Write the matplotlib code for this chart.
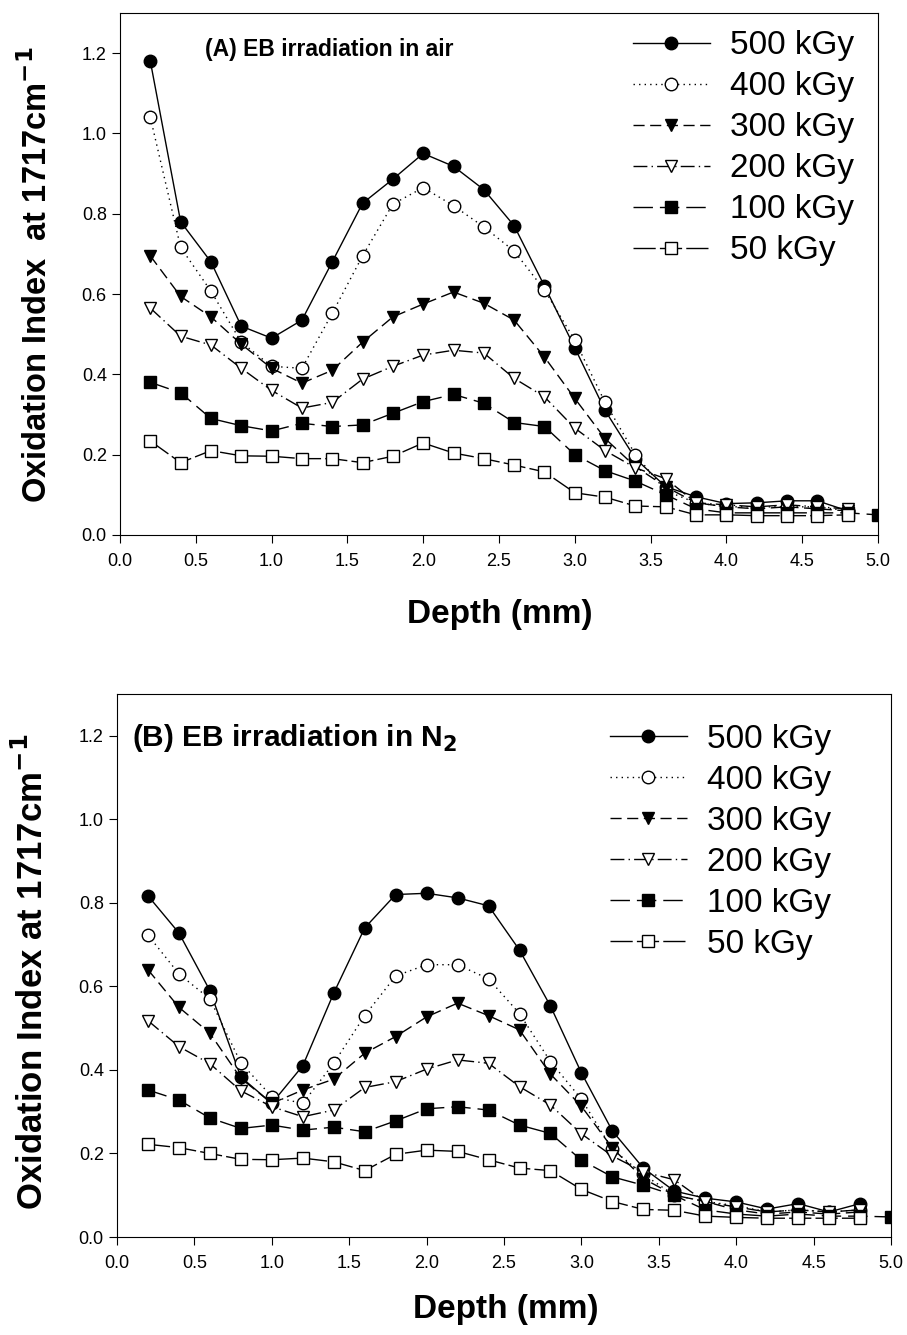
import numpy as np
import matplotlib
matplotlib.use("Agg")
import matplotlib.pyplot as plt

plt.rcParams['font.family'] = ['Liberation Sans', 'DejaVu Sans']

depth = [0.2, 0.4, 0.6, 0.8, 1.0, 1.2, 1.4, 1.6, 1.8, 2.0, 2.2, 2.4,
         2.6, 2.8, 3.0, 3.2, 3.4, 3.6, 3.8, 4.0, 4.2, 4.4, 4.6, 4.8]
depth_100 = depth + [5.0]
doses = ["500 kGy", "400 kGy", "300 kGy", "200 kGy", "100 kGy", "50 kGy"]

# (A) irradiation in air
air_500 = [1.18, 0.78, 0.68, 0.52, 0.49, 0.535, 0.68, 0.826, 0.886, 0.95, 0.918, 0.86,
           0.77, 0.62, 0.466, 0.31, 0.19, 0.12, 0.095, 0.078, 0.08, 0.085, 0.085, 0.06]
air_400 = [1.04, 0.716, 0.607, 0.48, 0.42, 0.415, 0.552, 0.695, 0.824, 0.865, 0.82, 0.767,
           0.707, 0.61, 0.485, 0.33, 0.20, 0.11, 0.08, 0.07, 0.07, 0.07, 0.07, 0.06]
air_300 = [0.695, 0.594, 0.543, 0.475, 0.415, 0.378, 0.41, 0.48, 0.543, 0.575, 0.605, 0.577,
           0.535, 0.443, 0.34, 0.24, 0.17, 0.12, 0.08, 0.07, 0.065, 0.07, 0.065, 0.06]
air_200 = [0.565, 0.495, 0.473, 0.415, 0.36, 0.316, 0.33, 0.388, 0.42, 0.448, 0.46, 0.453,
           0.39, 0.344, 0.266, 0.21, 0.167, 0.14, 0.08, 0.075, 0.07, 0.075, 0.07, 0.065]
air_100 = [0.38, 0.354, 0.29, 0.272, 0.259, 0.278, 0.27, 0.274, 0.303, 0.332, 0.35, 0.328,
           0.28, 0.27, 0.20, 0.16, 0.134, 0.10, 0.065, 0.055, 0.055, 0.055, 0.055, 0.055, 0.05]
air_50 = [0.234, 0.18, 0.21, 0.197, 0.196, 0.19, 0.19, 0.18, 0.196, 0.229, 0.204, 0.19,
          0.174, 0.157, 0.105, 0.094, 0.072, 0.07, 0.05, 0.05, 0.048, 0.048, 0.048, 0.05]

# (B) irradiation in N2
n2_500 = [0.817, 0.728, 0.59, 0.383, 0.32, 0.41, 0.584, 0.74, 0.82, 0.823, 0.812, 0.793,
          0.687, 0.553, 0.393, 0.254, 0.165, 0.11, 0.093, 0.084, 0.067, 0.08, 0.06, 0.08]
n2_400 = [0.723, 0.63, 0.57, 0.417, 0.336, 0.32, 0.416, 0.53, 0.625, 0.652, 0.652, 0.618,
          0.535, 0.42, 0.33, 0.21, 0.15, 0.10, 0.085, 0.075, 0.06, 0.065, 0.06, 0.065]
n2_300 = [0.64, 0.55, 0.488, 0.38, 0.32, 0.352, 0.378, 0.44, 0.48, 0.527, 0.56, 0.53,
          0.496, 0.39, 0.313, 0.213, 0.14, 0.10, 0.085, 0.065, 0.055, 0.06, 0.055, 0.06]
n2_200 = [0.518, 0.456, 0.415, 0.35, 0.312, 0.288, 0.304, 0.358, 0.372, 0.402, 0.424, 0.416,
          0.36, 0.316, 0.247, 0.194, 0.156, 0.137, 0.084, 0.072, 0.06, 0.065, 0.06, 0.065]
n2_100 = [0.352, 0.328, 0.285, 0.26, 0.268, 0.256, 0.263, 0.252, 0.278, 0.307, 0.312, 0.304,
          0.268, 0.248, 0.184, 0.144, 0.124, 0.10, 0.065, 0.055, 0.05, 0.055, 0.05, 0.05, 0.048]
n2_50 = [0.222, 0.214, 0.20, 0.186, 0.185, 0.189, 0.18, 0.159, 0.198, 0.208, 0.205, 0.185,
         0.165, 0.159, 0.114, 0.085, 0.066, 0.064, 0.05, 0.047, 0.045, 0.045, 0.045, 0.045]

xticks = np.arange(0, 5.01, 0.5)
yticks = np.arange(0, 1.21, 0.2)

# line style, marker, face colour, marker size per dose
styles = [
    ('-', 'o', 'black', 9),
    ((0, (1, 3)), 'o', 'white', 9),
    ((0, (8, 4)), 'v', 'black', 9),
    ((0, (10, 3, 1, 3)), 'v', 'white', 9),
    ((0, (14, 5)), 's', 'black', 8),
    ((0, (16, 3)), 's', 'white', 8),
]


def draw(ax, series, title, ylabel, ylab_pos, xlab_pos, leg_anchor):
    for (ls, mk, fc, ms), y, lab in zip(styles, series, doses):
        x = depth_100 if len(y) == len(depth_100) else depth
        ax.plot(x, y, linestyle=ls, marker=mk, color='black', markerfacecolor=fc,
                markeredgecolor='black', markersize=ms, lw=1.0, label=lab)
    ax.set_xlim(0, 5.0)
    ax.set_ylim(0, 1.3)
    ax.set_xticks(xticks)
    ax.set_xticklabels(['%.1f' % t for t in xticks])
    ax.set_yticks(yticks)
    ax.set_yticklabels(['%.1f' % t for t in yticks])
    ax.tick_params(direction='out', length=6, labelsize=13, top=False, right=False)
    ax.tick_params(axis='x', pad=7)
    ax.set_xlabel('Depth (mm)', fontsize=24, fontweight='bold', va='center')
    ax.set_ylabel(ylabel[0], fontsize=ylabel[1], fontweight='bold', va='center')
    ax.xaxis.set_label_coords(*xlab_pos)
    ax.yaxis.set_label_coords(*ylab_pos)
    ax.text(title[1], title[2], title[0], fontsize=title[3], fontweight='bold',
            va='center', ha='left')
    ax.legend(loc='upper left', bbox_to_anchor=leg_anchor, frameon=False, fontsize=24,
              handlelength=2.3, handletextpad=0.6, labelspacing=0.3, borderpad=0,
              borderaxespad=0)


fig = plt.figure(figsize=(9.07, 13.35), dpi=100)
ax1 = fig.add_axes([0.1323, 0.5993, 0.8357, 0.391])
ax2 = fig.add_axes([0.129, 0.0734, 0.8534, 0.4067])

draw(ax1, [air_500, air_400, air_300, air_200, air_100, air_50],
     ('(A) EB irradiation in air', 0.56, 1.21, 16.5),
     ('Oxidation Index  at 1717cm$^{\\mathbf{-1}}$', 23.5),
     (-0.11, 0.498), (0.501, -0.153), (0.677, 0.967))
draw(ax2, [n2_500, n2_400, n2_300, n2_200, n2_100, n2_50],
     ('(B) EB irradiation in N$_\\mathbf{2}$', 0.10, 1.195, 21.5),
     ('Oxidation Index at 1717cm$^{\\mathbf{-1}}$', 25),
     (-0.11, 0.488), (0.502, -0.134), (0.637, 0.945))

fig.savefig('out.png', dpi=100)
